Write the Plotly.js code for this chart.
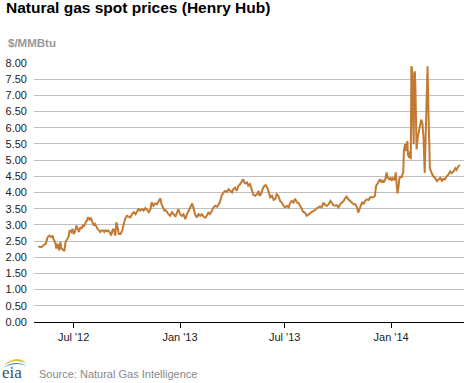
<!DOCTYPE html>
<html>
<head>
<meta charset="utf-8">
<script src="https://cdn.plot.ly/plotly-3.0.1.min.js"></script>
<style>
html,body{margin:0;padding:0;background:#fff;}
#chart{width:470px;height:383px;}
</style>
</head>
<body>
<div id="chart"></div>
<script>
const chartTitle = "Natural gas spot prices (Henry Hub)";
const unitLabel = "$/MMBtu";
const sourceText = "Source: Natural Gas Intelligence";
const tickDates = ["2012-07-01", "2013-01-01", "2013-07-01", "2014-01-01"];
const tickLabels = ["Jul '12", "Jan '13", "Jul '13", "Jan '14"];

const dates = [
"2012-05-01","2012-05-06","2012-05-10","2012-05-14","2012-05-17","2012-05-20","2012-05-23","2012-05-26","2012-05-27","2012-05-30",
"2012-06-01","2012-06-03","2012-06-06","2012-06-08","2012-06-10","2012-06-13","2012-06-15","2012-06-17","2012-06-20","2012-06-22",
"2012-06-24","2012-06-27","2012-06-29","2012-07-01","2012-07-03","2012-07-06","2012-07-08","2012-07-10","2012-07-13","2012-07-15",
"2012-07-17","2012-07-19","2012-07-22","2012-07-24","2012-07-26","2012-07-29","2012-07-31","2012-08-02","2012-08-05","2012-08-07",
"2012-08-09","2012-08-11","2012-08-14","2012-08-16","2012-08-18","2012-08-21","2012-08-23","2012-08-25","2012-08-28","2012-08-30",
"2012-09-01","2012-09-04","2012-09-06","2012-09-08","2012-09-11","2012-09-13","2012-09-15","2012-09-17","2012-09-20","2012-09-23",
"2012-09-25","2012-09-28","2012-10-01","2012-10-04","2012-10-07","2012-10-10","2012-10-13","2012-10-16","2012-10-19","2012-10-21",
"2012-10-24","2012-10-27","2012-10-30","2012-11-02","2012-11-05","2012-11-08","2012-11-11","2012-11-13","2012-11-16","2012-11-19",
"2012-11-22","2012-11-25","2012-11-28","2012-11-30","2012-12-03","2012-12-05","2012-12-07","2012-12-09","2012-12-12","2012-12-15",
"2012-12-18","2012-12-21","2012-12-24","2012-12-27","2012-12-29","2013-01-01","2013-01-04","2013-01-07","2013-01-10","2013-01-13",
"2013-01-16","2013-01-19","2013-01-22","2013-01-24","2013-01-27","2013-01-30","2013-02-02","2013-02-05","2013-02-08","2013-02-11",
"2013-02-14","2013-02-16","2013-02-19","2013-02-22","2013-02-25","2013-02-28","2013-03-03","2013-03-06","2013-03-09","2013-03-11",
"2013-03-14","2013-03-17","2013-03-20","2013-03-23","2013-03-26","2013-03-29","2013-04-01","2013-04-03","2013-04-06","2013-04-09",
"2013-04-12","2013-04-15","2013-04-18","2013-04-20","2013-04-22","2013-04-24","2013-04-27","2013-04-29","2013-05-02","2013-05-05",
"2013-05-08","2013-05-11","2013-05-14","2013-05-17","2013-05-18","2013-05-21","2013-05-24","2013-05-27","2013-05-29","2013-06-01",
"2013-06-03","2013-06-06","2013-06-09","2013-06-12","2013-06-15","2013-06-17","2013-06-20","2013-06-23","2013-06-26","2013-06-29",
"2013-07-02","2013-07-05","2013-07-08","2013-07-10","2013-07-13","2013-07-16","2013-07-19","2013-07-22","2013-07-25","2013-07-28",
"2013-07-31","2013-08-02","2013-08-05","2013-08-08","2013-08-11","2013-08-14","2013-08-17","2013-08-20","2013-08-23","2013-08-26",
"2013-08-28","2013-08-31","2013-09-03","2013-09-06","2013-09-09","2013-09-12","2013-09-15","2013-09-18","2013-09-20","2013-09-23",
"2013-09-26","2013-09-29","2013-10-02","2013-10-05","2013-10-08","2013-10-11","2013-10-13","2013-10-16","2013-10-19","2013-10-22",
"2013-10-25","2013-10-28","2013-10-31","2013-11-03","2013-11-05","2013-11-07","2013-11-10","2013-11-12","2013-11-14","2013-11-17",
"2013-11-20","2013-11-23","2013-11-26","2013-11-29","2013-12-01","2013-12-04","2013-12-06","2013-12-08","2013-12-11","2013-12-13",
"2013-12-15","2013-12-17","2013-12-19","2013-12-22","2013-12-24","2013-12-26","2013-12-29","2013-12-31","2014-01-02","2014-01-04",
"2014-01-07","2014-01-09","2014-01-10","2014-01-12","2014-01-14","2014-01-15","2014-01-17","2014-01-19","2014-01-22","2014-01-23",
"2014-01-25","2014-01-27","2014-01-29","2014-01-30","2014-02-01","2014-02-03","2014-02-04","2014-02-05","2014-02-06","2014-02-08",
"2014-02-09","2014-02-10","2014-02-11","2014-02-12","2014-02-13","2014-02-14","2014-02-16","2014-02-18","2014-02-20","2014-02-22",
"2014-02-24","2014-02-26","2014-02-28","2014-03-01","2014-03-03","2014-03-05","2014-03-06","2014-03-08","2014-03-09","2014-03-12",
"2014-03-15","2014-03-18","2014-03-21","2014-03-24","2014-03-27","2014-03-30","2014-04-01","2014-04-04","2014-04-07","2014-04-10",
"2014-04-13","2014-04-16","2014-04-19","2014-04-22","2014-04-24","2014-04-27","2014-04-30"
];

const prices = [
2.33,2.31,2.37,2.42,2.62,2.67,2.62,2.67,2.57,2.47,
2.27,2.42,2.21,2.47,2.27,2.21,2.19,2.47,2.57,2.62,
2.83,2.78,2.88,2.72,2.78,2.98,2.88,2.78,2.93,2.88,
2.98,2.96,3.08,3.13,3.23,3.16,3.20,3.13,2.98,3.03,
2.93,2.88,2.83,2.78,2.83,2.83,2.78,2.83,2.80,2.83,
2.78,2.67,2.83,2.88,2.67,3.08,2.93,2.72,2.72,2.82,
2.97,3.18,3.28,3.25,3.23,3.33,3.39,3.33,3.44,3.49,
3.44,3.49,3.44,3.52,3.46,3.39,3.49,3.70,3.59,3.66,
3.64,3.75,3.82,3.64,3.49,3.44,3.46,3.39,3.33,3.28,
3.39,3.33,3.25,3.39,3.49,3.33,3.28,3.33,3.18,3.33,
3.44,3.59,3.66,3.54,3.33,3.23,3.33,3.28,3.33,3.25,
3.22,3.28,3.38,3.33,3.43,3.54,3.59,3.56,3.64,3.71,
3.90,4.00,4.05,4.02,4.10,4.05,4.00,4.10,4.15,4.05,
4.21,4.26,4.36,4.41,4.32,4.28,4.31,4.21,4.26,4.10,
3.92,3.90,3.95,4.05,3.90,3.95,4.12,4.21,4.23,4.15,
4.00,3.85,3.90,3.77,3.81,3.95,3.90,3.74,3.69,3.59,
3.54,3.59,3.54,3.67,3.74,3.69,3.81,3.69,3.67,3.59,
3.48,3.40,3.38,3.28,3.33,3.38,3.40,3.43,3.48,3.51,
3.54,3.57,3.54,3.69,3.61,3.59,3.64,3.74,3.69,3.61,
3.59,3.61,3.54,3.64,3.69,3.74,3.81,3.87,3.79,3.74,
3.71,3.64,3.64,3.54,3.38,3.48,3.64,3.71,3.64,3.74,
3.79,3.77,3.85,3.85,3.85,3.90,4.21,4.26,4.36,4.41,
4.31,4.38,4.31,4.41,4.62,4.46,4.41,4.46,4.36,4.44,
4.38,4.62,4.36,3.97,4.21,4.41,4.51,4.46,4.62,5.28,
5.49,5.28,5.59,5.18,5.08,5.28,5.03,7.90,7.85,6.21,
5.49,7.69,7.74,7.23,6.20,5.33,5.70,5.90,6.05,6.25,
6.15,5.70,4.60,5.20,6.20,7.90,6.90,5.00,4.75,4.60,
4.50,4.45,4.35,4.40,4.45,4.35,4.42,4.40,4.50,4.55,
4.65,4.60,4.65,4.75,4.70,4.80,4.85
];

const yTicks = [];
for (let v = 0; v <= 8.0001; v += 0.5) yTicks.push(+v.toFixed(2));

const FONT = '"Liberation Sans", Arial, Helvetica, sans-serif';
const L = 34, R = 6, T = 63, B = 61, W = 470, H = 383;
const pw = W - L - R, ph = H - T - B;
const px = x => (x - L) / pw;
const py = y => (H - B - y) / ph;

const trace = {
  type: 'scatter', mode: 'lines',
  x: dates, y: prices,
  line: {color: '#C27A32', width: 2},
  hoverinfo: 'skip'
};

const layout = {
  width: W, height: H,
  margin: {l: L, r: R, t: T, b: B, pad: 0},
  paper_bgcolor: '#ffffff', plot_bgcolor: '#ffffff',
  showlegend: false,
  font: {family: FONT, size: 11, color: '#222'},
  title: {
    text: '<b>' + chartTitle + '</b>',
    font: {family: FONT, size: 15.5, color: '#000'},
    x: 6 / W, xanchor: 'left', xref: 'container',
    y: 1 - 2 / H, yanchor: 'top', yref: 'container'
  },
  xaxis: {
    type: 'date',
    range: ['2012-04-23 12:00', '2014-05-07'],
    tickmode: 'array', tickvals: tickDates, ticktext: tickLabels,
    showgrid: false, zeroline: false,
    showline: true, linecolor: '#000', linewidth: 1,
    ticks: 'outside', ticklen: 5, tickwidth: 1, tickcolor: '#000',
    tickfont: {family: FONT, size: 11, color: '#222'},
    fixedrange: true
  },
  yaxis: {
    range: [0, 8],
    tickmode: 'array', tickvals: yTicks,
    tickformat: '.2f',
    showgrid: true, gridcolor: '#C0C0C0', gridwidth: 1,
    zeroline: false, showline: false,
    ticks: '', ticklabelstandoff: 6,
    tickfont: {family: FONT, size: 11, color: '#222'},
    fixedrange: true
  },
  annotations: [
    {text: '<b>' + unitLabel + '</b>', xref: 'paper', yref: 'paper',
     x: px(6), y: py(43), xanchor: 'left', yanchor: 'middle', showarrow: false,
     font: {family: FONT, size: 11.5, color: '#999'}},
    {text: sourceText, xref: 'paper', yref: 'paper',
     x: px(37), y: py(374), xanchor: 'left', yanchor: 'middle', showarrow: false,
     font: {family: FONT, size: 11, color: '#888'}},
    {text: 'eia', xref: 'paper', yref: 'paper',
     x: px(1), y: py(372), xanchor: 'left', yanchor: 'middle', showarrow: false,
     borderpad: 0,
     font: {family: '"Liberation Serif", "DejaVu Serif", serif', size: 17, color: '#3C4F63'}}
  ],
  shapes: [
    {type: 'path', xref: 'paper', yref: 'paper', line: {width: 0},
     fillcolor: '#8DBE3F',
     path: 'M ' + px(2) + ',' + py(367) + ' Q ' + px(14) + ',' + py(354) + ' ' + px(27) + ',' + py(364) +
           ' Q ' + px(14) + ',' + py(357) + ' ' + px(2) + ',' + py(367) + ' Z'},
    {type: 'path', xref: 'paper', yref: 'paper', line: {width: 0},
     fillcolor: '#F2C230',
     path: 'M ' + px(6) + ',' + py(364) + ' Q ' + px(16) + ',' + py(355) + ' ' + px(26) + ',' + py(362) +
           ' Q ' + px(16) + ',' + py(358) + ' ' + px(6) + ',' + py(364) + ' Z'},
    {type: 'path', xref: 'paper', yref: 'paper', line: {width: 0},
     fillcolor: '#2F7BBF',
     path: 'M ' + px(3) + ',' + py(368) + ' Q ' + px(15) + ',' + py(359) + ' ' + px(27) + ',' + py(366) +
           ' Q ' + px(15) + ',' + py(361) + ' ' + px(3) + ',' + py(368) + ' Z'}
  ]
};

Plotly.newPlot('chart', [trace], layout, {displayModeBar: false, staticPlot: true});
</script>
</body>
</html>
